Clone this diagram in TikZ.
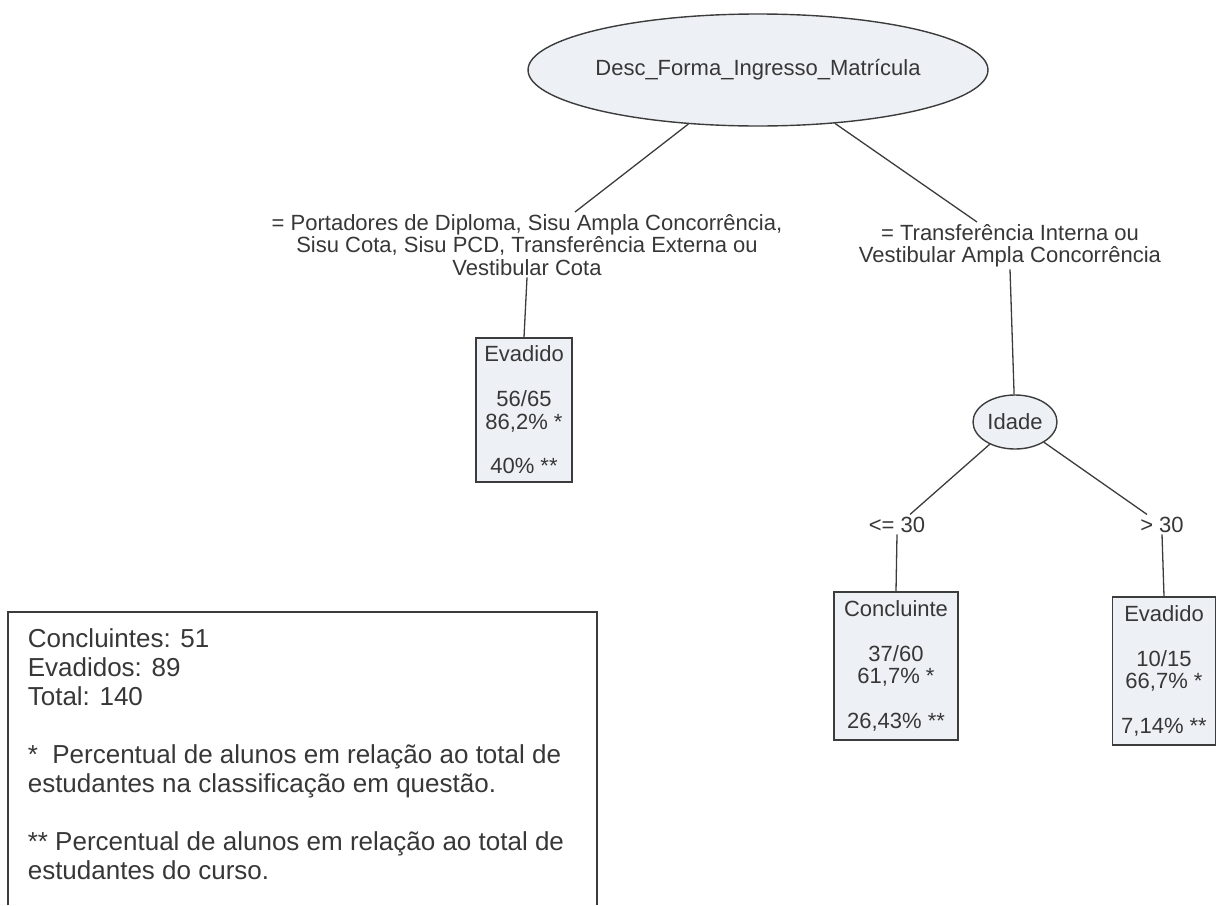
\documentclass[tikz,border=0pt]{standalone}
\usepackage{fontspec}
\setmainfont{Liberation Sans}
\usetikzlibrary{shapes.geometric,calc}
\definecolor{ink}{RGB}{55,55,55}
\definecolor{edgegray}{RGB}{60,60,60}
\definecolor{nodefill}{RGB}{237,241,245}
\begin{document}
\begin{tikzpicture}[x=1pt,y=-1pt,
  treefont/.style={font=\fontsize{22}{22.4}\selectfont},
  every node/.style={text=ink},
  split/.style={ellipse, draw=edgegray, line width=1.4pt, fill=nodefill, inner sep=0pt, treefont},
  leaf/.style={rectangle, draw=edgegray, line width=1.6pt, fill=nodefill, inner sep=0pt, align=center, treefont},
  cond/.style={inner sep=2pt, align=center, treefont},
  link/.style={draw=edgegray, line width=1.3pt}]
\useasboundingbox (0,0) rectangle (1217,905);

% decision nodes
\node[split, minimum width=360pt, minimum height=112pt] (root) at (758,70) {Desc\_Forma\_Ingresso\_Matrícula};
\node[split, minimum width=84pt, minimum height=54pt] (idade) at (1015,422) {Idade};

% branch conditions
\node[cond, anchor=north] (lblL) at (527,212) {= Portadores de Diploma, Sisu Ampla Concorrência,\\Sisu Cota, Sisu PCD, Transferência Externa ou\\Vestibular Cota};
\node[cond, anchor=north] (lblR) at (1010,222) {= Transferência Interna ou\\Vestibular Ampla Concorrência};
\node[cond, anchor=base] (leq) at (897,532) {<= 30};
\node[cond, anchor=base] (gt) at (1162,532) {> 30};

% leaves
\node[leaf, minimum width=96pt, minimum height=144pt] (evL) at (524,410) {Evadido\\[22.4pt]56/65\\86,2\% *\\[22.4pt]40\% **};
\node[leaf, minimum width=124pt, minimum height=148pt] (conc) at (896,666) {Concluinte\\[22.4pt]37/60\\61,7\% *\\[22.4pt]26,43\% **};
\node[leaf, minimum width=103pt, minimum height=148pt] (evR) at (1164,671) {Evadido\\[22.4pt]10/15\\66,7\% *\\[22.4pt]7,14\% **};

% attachment points of the slanted branches
\coordinate (hookL) at (575,212);
\coordinate (hookR) at (977,222);
\coordinate (hookLeq) at ($(leq.north)+(13,0)$);
\coordinate (hookGt) at ($(gt.north)+(-15,0)$);

% connectors
\draw[link] (root) -- (hookL);
\draw[link] (root) -- (hookR);
\draw[link] (lblL.south) -- (evL.north);
\draw[link] (lblR.south) -- (idade);
\draw[link] (idade) -- (hookLeq);
\draw[link] (idade) -- (hookGt);
\draw[link] (leq.south) -- (conc.north);
\draw[link] (gt.south) -- (evR.north);

% legend
\draw[line width=1.4pt, draw=edgegray] (8,905) -- (8,612) -- (597,612) -- (597,905);
\node[anchor=north west, inner sep=0pt, align=left, font=\fontsize{26}{29}\selectfont] (legend) at (27.6,628)
  {Concluintes: 51\\Evadidos: 89\\Total: 140\\[29pt]*\ \ Percentual de alunos em relação ao total de\\estudantes na classificação em questão.\\[29pt]** Percentual de alunos em relação ao total de\\estudantes do curso.};
\end{tikzpicture}
\end{document}
